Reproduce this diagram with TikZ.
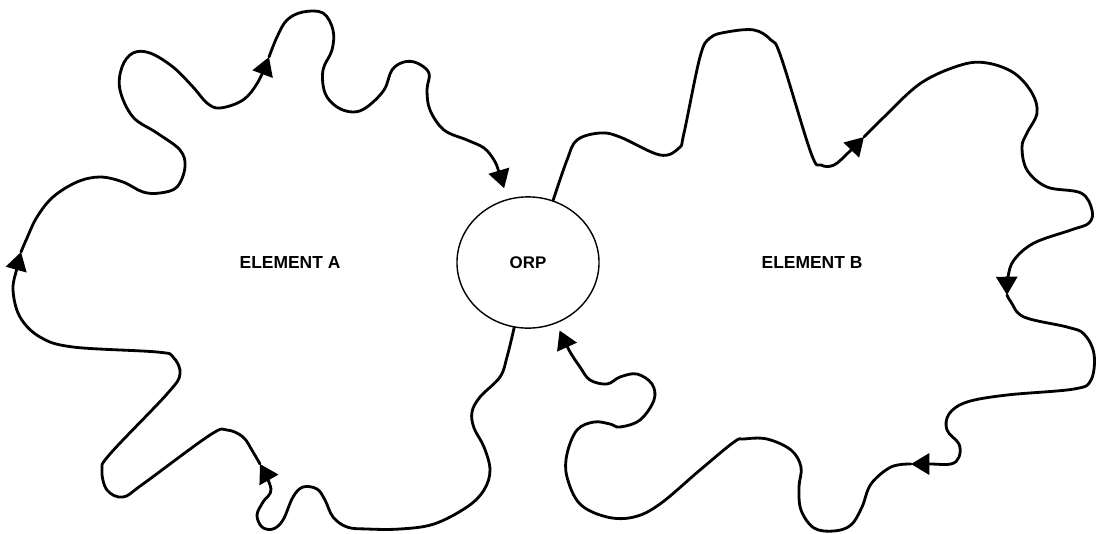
\documentclass[tikz,border=0pt]{standalone}
\usepackage{fontspec}
\setmainfont{Liberation Sans}
\usepackage{tikz}
\usetikzlibrary{shapes.geometric, arrows.meta}

\begin{document}
\begin{tikzpicture}[
    x=0.025cm, y=-0.025cm,
    orpnode/.style={draw, ellipse, line width=1pt, minimum width=3.55cm, minimum height=3.28cm, inner sep=0pt, font=\fontsize{12}{14}\selectfont\bfseries},
    elemtext/.style={font=\fontsize{12.4}{14}\selectfont\bfseries, inner sep=0pt},
    flow/.style={-{Triangle[length=13pt, width=15pt]}, line width=2pt, line cap=round, line join=round}
]
    \useasboundingbox (0,0) rectangle (1101,534);

    \node[orpnode] (orp) at (528,262.5) {ORP};
    \node[elemtext] (elA) at (290,262) {ELEMENT A};
    \node[elemtext] (elB) at (812,262) {ELEMENT B};

    \draw[flow] plot[smooth, tension=0.6] coordinates {(orp.-102) (507,357) (500,377) (480,397) (472,412) (474,428) (484,447) (490,470) (484,490) (467,507) (434,524) (400,529) (367,529) (347,527) (333,517) (325,500) (317,489) (303,487) (293,497) (283,520) (273,529) (262,527) (257,515) (263,502) (271,489) (260,464)};
    \draw[flow] plot[smooth, tension=0.6] coordinates {(260,464) (253,452) (243,437) (227,430) (210,435) (143,484) (123,497) (107,490) (102,470) (110,454) (167,394) (180,374) (173,357) (157,352) (73,347) (40,337) (20,317) (13,290) (17,268) (21,252)};
    \draw[flow] plot[smooth, tension=0.6] coordinates {(21,252) (27,238) (37,217) (53,197) (77,182) (100,177) (123,182) (143,192) (160,193) (177,187) (185,167) (180,150) (157,133) (133,117) (120,90) (122,67) (133,53) (150,53) (173,67) (193,87) (207,103) (220,108) (243,100) (258,82) (269,57)};
    \draw[flow, shorten >=8pt] plot[smooth, tension=0.6] coordinates {(269,57) (277,37) (287,20) (303,12) (323,13) (333,30) (332,50) (323,70) (325,93) (337,107) (353,112) (367,107) (384,90) (392,70) (404,62) (417,63) (429,73) (427,90) (430,110) (444,130) (467,140) (484,148) (494,160) (499,172) (orp.108)};

    \draw[flow] plot[smooth, tension=0.6] coordinates {(orp.68) (567,160) (577,140) (600,133) (620,137) (660,155) (679,148) (684,133) (700,57) (710,38) (727,32) (754,30) (771,40) (781,57) (811,153) (821,165) (834,165) (849,152) (864,137)};
    \draw[flow] plot[smooth, tension=0.6] coordinates {(864,137) (884,117) (921,83) (961,65) (987,63) (1014,73) (1032,93) (1037,113) (1027,133) (1022,147) (1027,170) (1047,187) (1081,193) (1092,210) (1089,223) (1071,230) (1034,243) (1014,260) (1008,277) (1007,295)};
    \draw[flow] plot[smooth, tension=0.6] coordinates {(1007,295) (1011,302) (1024,317) (1067,327) (1084,334) (1094,354) (1091,380) (1074,389) (1007,395) (967,402) (949,414) (947,430) (959,444) (959,457) (951,464) (930,464) (911,464)};
    \draw[flow, shorten >=5.5pt] plot[smooth, tension=0.6] coordinates {(911,464) (891,467) (871,484) (862,507) (851,525) (834,531) (814,528) (801,510) (799,487) (801,467) (791,450) (767,439) (744,439) (734,442) (700,470) (660,504) (634,517) (607,517) (580,504) (567,477) (567,454) (577,430) (594,422) (610,424) (620,427) (640,420) (654,400) (652,384) (637,374) (620,377) (607,384) (590,380) (580,367) (569,350) (orp.-65)};
\end{tikzpicture}
\end{document}
